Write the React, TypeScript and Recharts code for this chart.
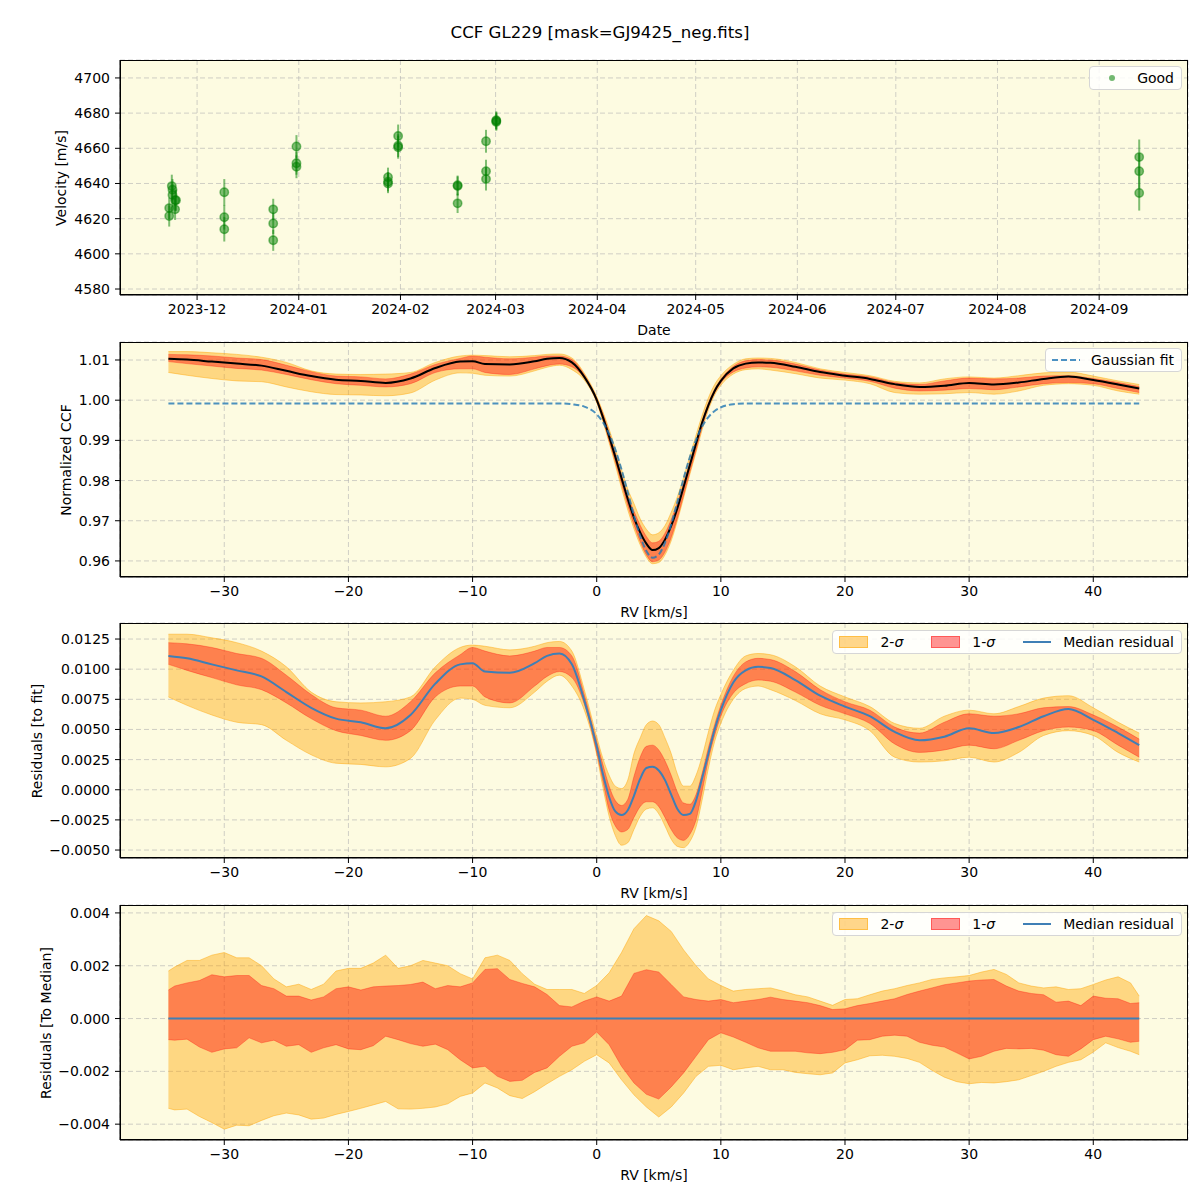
import {
  ComposedChart, ScatterChart, Scatter, ErrorBar, Area, Line, XAxis, YAxis, CartesianGrid,
} from 'recharts';

const FONT = '"DejaVu Sans", sans-serif';
const BG = '#fdfbe1';

// ---- panel 1: radial velocities ----
const obsDates = [
  '2023-11-22T12:00Z', '2023-11-22T12:00Z', '2023-11-23T07:00Z', '2023-11-23T12:00Z', '2023-11-23T12:00Z',
  '2023-11-24T07:00Z', '2023-11-24T14:00Z', '2023-11-24T07:00Z',
  '2023-12-09T07:00Z', '2023-12-09T07:00Z', '2023-12-09T07:00Z',
  '2023-12-24T05:00Z', '2023-12-24T05:00Z', '2023-12-24T05:00Z',
  '2023-12-31T07:00Z', '2023-12-31T07:00Z', '2023-12-31T07:00Z',
  '2024-01-28T05:00Z', '2024-01-28T05:00Z', '2024-01-28T05:00Z',
  '2024-01-31T07:00Z', '2024-01-31T07:00Z', '2024-01-31T07:00Z',
  '2024-02-18T10:00Z', '2024-02-18T10:00Z', '2024-02-18T10:00Z',
  '2024-02-27T02:00Z', '2024-02-27T02:00Z', '2024-02-27T02:00Z',
  '2024-03-01T05:00Z', '2024-03-01T05:00Z', '2024-03-01T05:00Z',
  '2024-09-13T05:00Z', '2024-09-13T05:00Z', '2024-09-13T05:00Z',
];
const obsVel = [
  4626, 4621.5, 4638.5, 4636.5, 4633.5, 4630.5, 4630.5, 4625.3,
  4635, 4620.8, 4614,
  4625.3, 4617.3, 4607.7,
  4661, 4651.5, 4649.5,
  4643.5, 4641, 4640,
  4667, 4661.5, 4660.6,
  4639, 4638.5, 4628.7,
  4664, 4647, 4642.5,
  4675.5, 4676, 4675,
  4655, 4647, 4634.6,
];
const obsErr = [
  6, 6, 6.5, 6, 6, 6, 6, 6,
  7.5, 7, 7,
  6, 6, 6,
  6.5, 6.5, 6.5,
  5.5, 5.5, 5.5,
  6.5, 6.5, 6.5,
  5.5, 5.5, 5.5,
  6.5, 6.5, 6.5,
  5, 5, 5,
  10, 10, 10,
];
const monthTicks = [
  '2023-12-01', '2024-01-01', '2024-02-01', '2024-03-01', '2024-04-01',
  '2024-05-01', '2024-06-01', '2024-07-01', '2024-08-01', '2024-09-01',
];
const velTicks = [4580, 4600, 4620, 4640, 4660, 4680, 4700];

// ---- panels 2 & 3: CCF and residuals to fit ----
const RV = [
  -34.5, -33, -31, -29, -27, -25, -23, -21, -19, -17, -15, -13, -11, -10, -9, -7, -5, -4, -3, -2, -1,
  0, 0.5, 1, 1.5, 2, 2.5, 3, 3.5, 4, 4.5, 5, 5.5, 6, 6.5, 7, 7.5, 8, 8.5, 9, 9.5, 10,
  11, 12, 13, 14, 16, 18, 20, 22, 24, 26, 28, 30, 32, 34, 36, 38, 40, 42, 43.7,
];
const gaussFit = [
  0.9992, 0.9992, 0.9992, 0.9992, 0.9992, 0.9992, 0.9992, 0.9992, 0.9992, 0.9992, 0.9992, 0.9992, 0.9992, 0.9992, 0.9992, 0.9992, 0.9992, 0.9992, 0.9992, 0.9990, 0.9984,
  0.9965, 0.9945, 0.9916, 0.9877, 0.9827, 0.9771, 0.9713, 0.9662, 0.9625, 0.9608, 0.9616, 0.9645, 0.9691, 0.9747, 0.9805, 0.9858, 0.9901, 0.9935, 0.9958, 0.9973, 0.9982,
  0.9990, 0.9992, 0.9992, 0.9992, 0.9992, 0.9992, 0.9992, 0.9992, 0.9992, 0.9992, 0.9992, 0.9992, 0.9992, 0.9992, 0.9992, 0.9992, 0.9992, 0.9992, 0.9992,
];
const ccfMedian = [
  1.0103, 1.0101, 1.0096, 1.0091, 1.0086, 1.0073, 1.0060, 1.0051, 1.0048, 1.0043, 1.0054, 1.0080, 1.0096, 1.0097, 1.0090, 1.0089, 1.0097, 1.0103, 1.0105, 1.0094, 1.0058,
  1.0001, 0.9958, 0.9910, 0.9859, 0.9806, 0.9754, 0.9708, 0.9671, 0.9643, 0.9627, 0.9632, 0.9653, 0.9687, 0.9731, 0.9784, 0.9838, 0.9892, 0.9945, 0.9988, 1.0023, 1.0048,
  1.0079, 1.0091, 1.0094, 1.0093, 1.0083, 1.0070, 1.0061, 1.0053, 1.0040, 1.0033, 1.0036, 1.0043, 1.0039, 1.0044, 1.0053, 1.0059, 1.0050, 1.0039, 1.0029,
];
const ccf1Hi = [
  1.0114, 1.0113, 1.0110, 1.0105, 1.0101, 1.0087, 1.0071, 1.0060, 1.0058, 1.0053, 1.0065, 1.0089, 1.0104, 1.0110, 1.0107, 1.0103, 1.0107, 1.0110, 1.0110, 1.0101, 1.0063,
  1.0005, 0.9966, 0.9919, 0.9868, 0.9814, 0.9763, 0.9724, 0.9689, 0.9661, 0.9645, 0.9649, 0.9669, 0.9703, 0.9745, 0.9794, 0.9846, 0.9897, 0.9949, 0.9993, 1.0027, 1.0052,
  1.0084, 1.0098, 1.0101, 1.0100, 1.0090, 1.0075, 1.0065, 1.0058, 1.0044, 1.0039, 1.0048, 1.0055, 1.0053, 1.0055, 1.0060, 1.0061, 1.0054, 1.0044, 1.0034,
];
const ccf1Lo = [
  1.0096, 1.0091, 1.0085, 1.0079, 1.0075, 1.0064, 1.0051, 1.0041, 1.0037, 1.0033, 1.0041, 1.0069, 1.0078, 1.0078, 1.0069, 1.0064, 1.0078, 1.0086, 1.0090, 1.0083, 1.0055,
  0.9996, 0.9952, 0.9899, 0.9847, 0.9792, 0.9738, 0.9690, 0.9648, 0.9615, 0.9598, 0.9602, 0.9622, 0.9658, 0.9707, 0.9763, 0.9821, 0.9876, 0.9934, 0.9983, 1.0018, 1.0043,
  1.0070, 1.0080, 1.0083, 1.0082, 1.0073, 1.0062, 1.0055, 1.0047, 1.0030, 1.0023, 1.0025, 1.0029, 1.0026, 1.0033, 1.0041, 1.0044, 1.0041, 1.0029, 1.0019,
];
const ccf2Hi = [
  1.0121, 1.0121, 1.0118, 1.0114, 1.0107, 1.0094, 1.0073, 1.0065, 1.0064, 1.0065, 1.0069, 1.0094, 1.0110, 1.0112, 1.0111, 1.0108, 1.0111, 1.0114, 1.0115, 1.0105, 1.0067,
  1.0009, 0.9971, 0.9928, 0.9880, 0.9828, 0.9779, 0.9743, 0.9705, 0.9679, 0.9665, 0.9670, 0.9688, 0.9721, 0.9760, 0.9808, 0.9861, 0.9913, 0.9963, 1.0006, 1.0039, 1.0061,
  1.0089, 1.0103, 1.0105, 1.0104, 1.0094, 1.0078, 1.0069, 1.0061, 1.0047, 1.0043, 1.0053, 1.0058, 1.0055, 1.0061, 1.0068, 1.0070, 1.0060, 1.0048, 1.0039,
];
const ccf2Lo = [
  1.0069, 1.0062, 1.0054, 1.0048, 1.0046, 1.0033, 1.0021, 1.0014, 1.0013, 1.0011, 1.0018, 1.0050, 1.0068, 1.0067, 1.0062, 1.0060, 1.0073, 1.0082, 1.0087, 1.0076, 1.0050,
  0.9994, 0.9947, 0.9894, 0.9839, 0.9781, 0.9727, 0.9680, 0.9640, 0.9609, 0.9593, 0.9596, 0.9615, 0.9650, 0.9700, 0.9757, 0.9815, 0.9870, 0.9927, 0.9976, 1.0013, 1.0037,
  1.0065, 1.0076, 1.0078, 1.0075, 1.0066, 1.0055, 1.0050, 1.0041, 1.0019, 1.0015, 1.0016, 1.0019, 1.0015, 1.0023, 1.0037, 1.0041, 1.0037, 1.0023, 1.0015,
];
const resMedian = [
  0.0111, 0.0109, 0.0104, 0.0099, 0.0094, 0.0081, 0.0068, 0.0059, 0.0056, 0.0051, 0.0062, 0.0088, 0.0104, 0.0105, 0.0098, 0.0097, 0.0105, 0.0111, 0.0113, 0.0104, 0.0074,
  0.0036, 0.0013, -0.0006, -0.0018, -0.0021, -0.0017, -0.0005, 0.0009, 0.0018, 0.0019, 0.0016, 0.0008, -0.0004, -0.0016, -0.0021, -0.0020, -0.0009, 0.0010, 0.0030, 0.0050, 0.0066,
  0.0089, 0.0099, 0.0102, 0.0101, 0.0091, 0.0078, 0.0069, 0.0061, 0.0048, 0.0041, 0.0044, 0.0051, 0.0047, 0.0052, 0.0061, 0.0067, 0.0058, 0.0047, 0.0037,
];
const res1Hi = [
  0.0122, 0.0121, 0.0118, 0.0113, 0.0109, 0.0095, 0.0079, 0.0068, 0.0066, 0.0061, 0.0073, 0.0097, 0.0112, 0.0118, 0.0115, 0.0111, 0.0115, 0.0118, 0.0118, 0.0111, 0.0079,
  0.0040, 0.0021, 0.0003, -0.0009, -0.0013, -0.0008, 0.0011, 0.0027, 0.0036, 0.0037, 0.0033, 0.0024, 0.0012, -0.0002, -0.0011, -0.0012, -0.0004, 0.0014, 0.0035, 0.0054, 0.0070,
  0.0094, 0.0106, 0.0109, 0.0108, 0.0098, 0.0083, 0.0073, 0.0066, 0.0052, 0.0047, 0.0056, 0.0063, 0.0061, 0.0063, 0.0068, 0.0069, 0.0062, 0.0052, 0.0042,
];
const res1Lo = [
  0.0104, 0.0099, 0.0093, 0.0087, 0.0083, 0.0072, 0.0059, 0.0049, 0.0045, 0.0041, 0.0049, 0.0077, 0.0086, 0.0086, 0.0077, 0.0072, 0.0086, 0.0094, 0.0098, 0.0093, 0.0071,
  0.0031, 0.0007, -0.0017, -0.0030, -0.0035, -0.0033, -0.0023, -0.0014, -0.0010, -0.0010, -0.0014, -0.0023, -0.0033, -0.0040, -0.0042, -0.0037, -0.0025, -0.0001, 0.0025, 0.0045, 0.0061,
  0.0080, 0.0088, 0.0091, 0.0090, 0.0081, 0.0070, 0.0063, 0.0055, 0.0038, 0.0031, 0.0033, 0.0037, 0.0034, 0.0041, 0.0049, 0.0052, 0.0049, 0.0037, 0.0027,
];
const res2Hi = [
  0.0129, 0.0129, 0.0126, 0.0122, 0.0115, 0.0102, 0.0081, 0.0073, 0.0072, 0.0073, 0.0077, 0.0102, 0.0118, 0.0120, 0.0119, 0.0116, 0.0119, 0.0122, 0.0123, 0.0115, 0.0083,
  0.0044, 0.0026, 0.0012, 0.0003, 0.0001, 0.0008, 0.0030, 0.0043, 0.0054, 0.0057, 0.0054, 0.0043, 0.0030, 0.0013, 0.0003, 0.0003, 0.0012, 0.0028, 0.0048, 0.0066, 0.0079,
  0.0099, 0.0111, 0.0113, 0.0112, 0.0102, 0.0086, 0.0077, 0.0069, 0.0055, 0.0051, 0.0061, 0.0066, 0.0063, 0.0069, 0.0076, 0.0078, 0.0068, 0.0056, 0.0047,
];
const res2Lo = [
  0.0077, 0.0070, 0.0062, 0.0056, 0.0054, 0.0041, 0.0029, 0.0022, 0.0021, 0.0019, 0.0026, 0.0058, 0.0076, 0.0075, 0.0070, 0.0068, 0.0081, 0.0090, 0.0095, 0.0086, 0.0066,
  0.0029, 0.0002, -0.0022, -0.0038, -0.0046, -0.0044, -0.0033, -0.0022, -0.0016, -0.0015, -0.0020, -0.0030, -0.0041, -0.0047, -0.0048, -0.0043, -0.0031, -0.0008, 0.0018, 0.0040, 0.0055,
  0.0075, 0.0084, 0.0086, 0.0083, 0.0074, 0.0063, 0.0058, 0.0049, 0.0027, 0.0023, 0.0024, 0.0027, 0.0023, 0.0031, 0.0045, 0.0049, 0.0045, 0.0031, 0.0023,
];

// ---- panel 4: residuals to median ----
const RV4 = [
  -34.5, -34, -33, -32, -31, -30, -29, -28, -27, -26, -25, -24, -23, -22, -21, -20, -19, -18, -17, -16,
  -15, -14, -13, -12, -11, -10, -9, -8, -7, -6, -5, -4, -3, -2, -1, 0, 1, 2, 3, 4,
  5, 6, 7, 8, 9, 10, 11, 12, 13, 14, 15, 16, 17, 18, 19, 20, 21, 22, 23, 24,
  25, 26, 27, 28, 29, 30, 31, 32, 33, 34, 35, 36, 37, 38, 39, 40, 41, 42, 43, 43.7,
];
const med4 = [
  0, 0, 0, 0, 0, 0, 0, 0, 0, 0, 0, 0, 0, 0, 0, 0, 0, 0, 0, 0,
  0, 0, 0, 0, 0, 0, 0, 0, 0, 0, 0, 0, 0, 0, 0, 0, 0, 0, 0, 0,
  0, 0, 0, 0, 0, 0, 0, 0, 0, 0, 0, 0, 0, 0, 0, 0, 0, 0, 0, 0,
  0, 0, 0, 0, 0, 0, 0, 0, 0, 0, 0, 0, 0, 0, 0, 0, 0, 0, 0, 0,
];
const med2Hi4 = [
  0.0018, 0.00195, 0.0022, 0.0022, 0.0024, 0.0025, 0.0023, 0.0023, 0.0020, 0.0015, 0.0012, 0.0013, 0.0011, 0.0013, 0.0018, 0.0019, 0.0019, 0.0021, 0.0024, 0.0019,
  0.0020, 0.0022, 0.0021, 0.0020, 0.0017, 0.0015, 0.0023, 0.0024, 0.0022, 0.0017, 0.0013, 0.0011, 0.0011, 0.0011, 0.00095, 0.00125, 0.00173, 0.0025, 0.0034, 0.0039,
  0.0037, 0.0033, 0.0026, 0.0020, 0.0015, 0.00125, 0.00104, 0.0011, 0.00113, 0.00116, 0.00104, 0.0009, 0.00082, 0.00066, 0.0005, 0.00072, 0.00075, 0.0009, 0.00104, 0.00113,
  0.00125, 0.00135, 0.00148, 0.00154, 0.00158, 0.00163, 0.00176, 0.00186, 0.00167, 0.00135, 0.00123, 0.00116, 0.0012, 0.0011, 0.00113, 0.00129, 0.00146, 0.00158, 0.00135, 0.00085,
];
const med1Hi4 = [
  0.00108, 0.00123, 0.00135, 0.00144, 0.00166, 0.00158, 0.00163, 0.00163, 0.00125, 0.00113, 0.00085, 0.00085, 0.0007, 0.00082, 0.00113, 0.0012, 0.00108, 0.0012, 0.00123, 0.00125,
  0.00129, 0.00138, 0.00113, 0.00125, 0.0012, 0.00135, 0.00186, 0.00189, 0.00148, 0.00133, 0.0012, 0.00091, 0.00049, 0.00044, 0.00066, 0.00082, 0.00066, 0.00085, 0.00171, 0.00185,
  0.00176, 0.00129, 0.00082, 0.00072, 0.00066, 0.00072, 0.0006, 0.00066, 0.00072, 0.00081, 0.00072, 0.00066, 0.0006, 0.00049, 0.00034, 0.00037, 0.00049, 0.00057, 0.00066, 0.00075,
  0.00091, 0.00104, 0.00116, 0.00128, 0.00135, 0.00142, 0.00146, 0.00148, 0.00123, 0.00104, 0.00095, 0.0009, 0.00062, 0.00066, 0.00049, 0.00085, 0.00077, 0.00075, 0.00057, 0.0006,
];
const med1Lo4 = [
  -0.0008, -0.00082, -0.00078, -0.00108, -0.00128, -0.00115, -0.00111, -0.00073, -0.00092, -0.00082, -0.00105, -0.00099, -0.00128, -0.00111, -0.00099, -0.00115, -0.00118, -0.00103, -0.00067, -0.0008,
  -0.00095, -0.00105, -0.00097, -0.00118, -0.00156, -0.00187, -0.00181, -0.00219, -0.00238, -0.00234, -0.00204, -0.00187, -0.00143, -0.00105, -0.00092, -0.00051, -0.00099, -0.00181, -0.00244, -0.00287,
  -0.00305, -0.00259, -0.00206, -0.00143, -0.0008, -0.00054, -0.0007, -0.0009, -0.00111, -0.00124, -0.00124, -0.00124, -0.0013, -0.00133, -0.00128, -0.00118, -0.00082, -0.0008, -0.00067, -0.00063,
  -0.00067, -0.0009, -0.00101, -0.00108, -0.0013, -0.00153, -0.00143, -0.00124, -0.00113, -0.00115, -0.00113, -0.0012, -0.00137, -0.00143, -0.00115, -0.0008, -0.00067, -0.00077, -0.0009, -0.00086,
];
const med2Lo4 = [
  -0.0034, -0.00346, -0.00343, -0.00371, -0.00394, -0.00419, -0.00404, -0.00406, -0.00386, -0.00368, -0.00358, -0.00365, -0.00381, -0.00377, -0.00363, -0.00352, -0.0034, -0.00327, -0.00314, -0.00342,
  -0.00343, -0.0034, -0.00335, -0.00323, -0.00295, -0.00282, -0.00244, -0.00263, -0.00292, -0.00303, -0.00277, -0.00247, -0.00219, -0.00194, -0.00162, -0.00137, -0.00168, -0.00232, -0.00289, -0.00335,
  -0.00373, -0.00335, -0.00282, -0.00219, -0.00181, -0.00177, -0.00194, -0.00187, -0.00181, -0.00194, -0.00194, -0.00204, -0.00209, -0.00213, -0.00206, -0.00168, -0.00156, -0.00141, -0.00139, -0.00143,
  -0.00151, -0.00166, -0.00196, -0.00222, -0.00239, -0.00247, -0.00242, -0.00244, -0.00239, -0.00232, -0.00216, -0.002, -0.00181, -0.00166, -0.00156, -0.00127, -0.00092, -0.0011, -0.00124, -0.00137,
];

const rvTicks = [-30, -20, -10, 0, 10, 20, 30, 40];
const ccfTicks = [0.96, 0.97, 0.98, 0.99, 1.0, 1.01];
const resTicks = [-0.005, -0.0025, 0, 0.0025, 0.005, 0.0075, 0.01, 0.0125];
const res4Ticks = [-0.004, -0.002, 0, 0.002, 0.004];

const points = obsDates.map((d, i) => ({ t: Date.parse(d), v: obsVel[i], err: obsErr[i] }));
const ccfRows = RV.map((rv, i) => ({
  rv, b2: [ccf2Lo[i], ccf2Hi[i]], b1: [ccf1Lo[i], ccf1Hi[i]], med: ccfMedian[i], fit: gaussFit[i],
}));
const resRows = RV.map((rv, i) => ({
  rv, b2: [res2Lo[i], res2Hi[i]], b1: [res1Lo[i], res1Hi[i]], med: resMedian[i],
}));
const res4Rows = RV4.map((rv, i) => ({
  rv, b2: [med2Lo4[i], med2Hi4[i]], b1: [med1Lo4[i], med1Hi4[i]], med: med4[i],
}));

const minus = (s: string) => s.replace('-', '\u2212');
const tickStyle = { fill: '#000', fontSize: 14, fontFamily: FONT };
const PLOT_H = 235;
const margin = { top: 10, right: 12, bottom: 5, left: 0 };

const Frame = ({ top }: { top: number }) => (
  <div style={{
    position: 'absolute', left: 120, top, width: 1068, height: PLOT_H,
    border: '1px solid #000', boxSizing: 'border-box', pointerEvents: 'none',
  }} />
);

const Text = ({ x, y, children, rotate, size = 14 }: any) => (
  <div style={{
    position: 'absolute', left: x, top: y, whiteSpace: 'nowrap', fontFamily: FONT, fontSize: size,
    transform: `translate(-50%, -50%)${rotate ? ' rotate(-90deg)' : ''}`, color: '#000',
  }}>{children}</div>
);

const legendBox = (top: number): any => ({
  position: 'absolute', top, right: 18, background: 'rgba(255,255,255,0.85)',
  border: '1px solid #d6d6d6', borderRadius: 4, padding: '3px 7px 3px 6px',
  display: 'flex', alignItems: 'center', fontFamily: FONT, fontSize: 14, color: '#000',
});

const BandLegend = ({ top }: { top: number }) => (
  <div style={legendBox(top)}>
    <span style={{ width: 27, height: 10, background: 'rgba(255,165,0,0.45)', border: '1px solid rgba(255,165,0,0.5)', marginRight: 12 }} />
    <span style={{ marginRight: 28 }}>2-<i>σ</i></span>
    <span style={{ width: 27, height: 10, background: 'rgba(255,0,0,0.42)', border: '1px solid rgba(255,0,0,0.4)', marginRight: 12 }} />
    <span style={{ marginRight: 28 }}>1-<i>σ</i></span>
    <span style={{ width: 28, height: 2, background: '#3f7fb5', marginRight: 12 }} />
    <span>Median residual</span>
  </div>
);

const Bands = ({ curve }: { curve: 'monotone' | 'linear' }) => (
  <>
    <Area type={curve} dataKey="b2" fill="#ffa500" fillOpacity={0.42} stroke="#ffa500" strokeOpacity={0.45} strokeWidth={1} isAnimationActive={false} />
    <Area type={curve} dataKey="b1" fill="#ff0000" fillOpacity={0.4} stroke="#ff0000" strokeOpacity={0.3} strokeWidth={1} isAnimationActive={false} />
  </>
);

const rvXAxis = (
  <XAxis type="number" dataKey="rv" domain={[-38.4, 47.63]} ticks={rvTicks} interval={0} allowDataOverflow
    height={30} tick={tickStyle} tickSize={5} tickMargin={4} axisLine={{ stroke: '#000' }} tickLine={{ stroke: '#000' }}
    tickFormatter={(v: number) => minus(String(v))} />
);

const grid = <CartesianGrid fill={BG} stroke="#b0b0b0" strokeOpacity={0.6} strokeDasharray="5 3" />;

export default function App() {
  const P1 = 60, P2 = 342, P3 = 623, P4 = 905;
  return (
    <div style={{ position: 'absolute', left: 0, top: 0, width: 1200, height: 1200, background: '#fff', overflow: 'hidden' }}>
      <Text x={600} y={32} size={16.6}>CCF GL229 [mask=GJ9425_neg.fits]</Text>

      {/* panel 1 */}
      <div style={{ position: 'absolute', left: 0, top: P1 - 10 }}>
        <ScatterChart width={1200} height={280} margin={margin}>
          {grid}
          <XAxis type="number" dataKey="t" domain={[Date.parse('2023-11-07T12:00Z'), Date.parse('2024-09-28T02:00Z')]}
            ticks={monthTicks.map((m) => Date.parse(m + 'T00:00Z'))} interval={0} allowDataOverflow height={30}
            tick={tickStyle} tickSize={5} tickMargin={4} axisLine={{ stroke: '#000' }} tickLine={{ stroke: '#000' }}
            tickFormatter={(v: number) => new Date(v).toISOString().slice(0, 7)} />
          <YAxis type="number" dataKey="v" domain={[4576.6, 4710.2]} ticks={velTicks} interval={0} allowDataOverflow width={120}
            tick={tickStyle} tickSize={5} tickMargin={5} axisLine={{ stroke: '#000' }} tickLine={{ stroke: '#000' }} />
          <Scatter data={points} isAnimationActive={false}
            shape={(p: any) => (
              <circle cx={p.cx} cy={p.cy} r={4.2} fill="#008000" fillOpacity={0.5} stroke="#008000" strokeOpacity={0.5} strokeWidth={1.5} />
            )}>
            <ErrorBar dataKey="err" direction="y" width={0} stroke="#008000" strokeOpacity={0.5} strokeWidth={2} />
          </Scatter>
        </ScatterChart>
      </div>
      <Frame top={P1} />
      <Text x={654} y={330}>Date</Text>
      <Text x={61} y={P1 + PLOT_H / 2} rotate>Velocity [m/s]</Text>
      <div style={legendBox(P1 + 6)}>
        <span style={{ width: 6, height: 6, borderRadius: 3, background: 'rgba(0,128,0,0.55)', margin: '0 22px 0 13px' }} />
        <span>Good</span>
      </div>

      {/* panel 2 */}
      <div style={{ position: 'absolute', left: 0, top: P2 - 10 }}>
        <ComposedChart width={1200} height={280} margin={margin} data={ccfRows}>
          {grid}
          {rvXAxis}
          <YAxis type="number" domain={[0.956, 1.01448]} ticks={ccfTicks} interval={0} allowDataOverflow width={120}
            tick={tickStyle} tickSize={5} tickMargin={5} axisLine={{ stroke: '#000' }} tickLine={{ stroke: '#000' }}
            tickFormatter={(v: number) => v.toFixed(2)} />
          <Bands curve="monotone" />
          <Line type="monotone" dataKey="med" stroke="#000" strokeWidth={2} dot={false} isAnimationActive={false} />
          <Line type="monotone" dataKey="fit" stroke="#1f77b4" strokeOpacity={0.8} strokeWidth={2} strokeDasharray="6 3" dot={false} isAnimationActive={false} />
        </ComposedChart>
      </div>
      <Frame top={P2} />
      <Text x={654} y={612}>RV [km/s]</Text>
      <Text x={66} y={P2 + PLOT_H / 2} rotate>Normalized CCF</Text>
      <div style={legendBox(P2 + 6)}>
        <svg width={28} height={4} style={{ marginRight: 11 }}>
          <line x1={0} y1={2} x2={28} y2={2} stroke="#1f77b4" strokeOpacity={0.8} strokeWidth={2} strokeDasharray="6 3" />
        </svg>
        <span>Gaussian fit</span>
      </div>

      {/* panel 3 */}
      <div style={{ position: 'absolute', left: 0, top: P3 - 10 }}>
        <ComposedChart width={1200} height={280} margin={margin} data={resRows}>
          {grid}
          {rvXAxis}
          <YAxis type="number" domain={[-0.00566, 0.01383]} ticks={resTicks} interval={0} allowDataOverflow width={120}
            tick={tickStyle} tickSize={5} tickMargin={5} axisLine={{ stroke: '#000' }} tickLine={{ stroke: '#000' }}
            tickFormatter={(v: number) => minus(v.toFixed(4))} />
          <Bands curve="monotone" />
          <Line type="monotone" dataKey="med" stroke="#3f7fb5" strokeWidth={2} dot={false} isAnimationActive={false} />
        </ComposedChart>
      </div>
      <Frame top={P3} />
      <Text x={654} y={893}>RV [km/s]</Text>
      <Text x={37} y={P3 + PLOT_H / 2} rotate>Residuals [to fit]</Text>
      <BandLegend top={P3 + 7} />

      {/* panel 4 */}
      <div style={{ position: 'absolute', left: 0, top: P4 - 10 }}>
        <ComposedChart width={1200} height={280} margin={margin} data={res4Rows}>
          {grid}
          {rvXAxis}
          <YAxis type="number" domain={[-0.0046, 0.0043]} ticks={res4Ticks} interval={0} allowDataOverflow width={120}
            tick={tickStyle} tickSize={5} tickMargin={5} axisLine={{ stroke: '#000' }} tickLine={{ stroke: '#000' }}
            tickFormatter={(v: number) => minus(v.toFixed(3))} />
          <Bands curve="linear" />
          <Line type="linear" dataKey="med" stroke="#3f7fb5" strokeWidth={2} dot={false} isAnimationActive={false} />
        </ComposedChart>
      </div>
      <Frame top={P4} />
      <Text x={654} y={1175}>RV [km/s]</Text>
      <Text x={46} y={P4 + PLOT_H / 2} rotate>Residuals [To Median]</Text>
      <BandLegend top={P4 + 7} />
    </div>
  );
}
